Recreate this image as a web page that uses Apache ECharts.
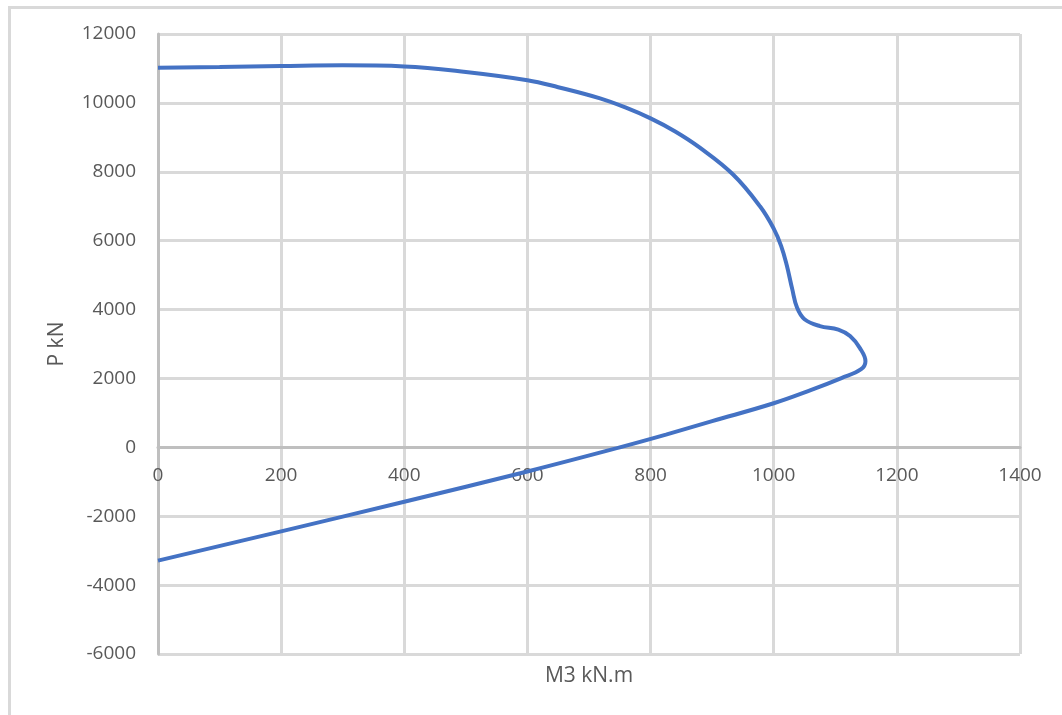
<!DOCTYPE html>
<html>
<head>
<meta charset="utf-8">
<script src="https://cdn.jsdelivr.net/npm/echarts@6/dist/echarts.min.js"></script>
<style>
  html, body { margin: 0; padding: 0; background: #ffffff; }
  #chart { width: 1062px; height: 715px; }
</style>
</head>
<body>
<div id="chart"></div>
<script>
// P–M3 interaction curve: moment M3 (kN.m) against axial force P (kN)
const momentM3 = [0, 100, 200, 300, 400, 500, 600, 650, 718, 760, 800, 840, 880, 934, 978, 1000, 1012, 1021, 1030, 1038, 1050, 1075, 1105, 1124, 1140, 1149, 1142, 1110, 1060, 1000, 900, 825, 750, 600, 400, 200, 0];
const axialP = [11020, 11045, 11070, 11090, 11060, 10900, 10660, 10455, 10130, 9860, 9550, 9170, 8700, 7920, 6990, 6350, 5850, 5300, 4600, 4050, 3720, 3520, 3420, 3230, 2880, 2500, 2270, 2010, 1660, 1280, 760, 370, 0, -700, -1580, -2440, -3290];

const xTicks = { min: 0, max: 1400, interval: 200 };
const yTicks = { min: -6000, max: 12000, interval: 2000 };
const xTitle = 'M3 kN.m';
const yTitle = 'P kN';

const curve = momentM3.map((m, i) => [m, axialP[i]]);

const labelFont = { fontFamily: 'Open Sans', fontSize: 19, color: '#595959' };
const gridGrey = '#d9d9d9';
const axisGrey = '#bfbfbf';
const plainNumber = v => String(v);

const chart = echarts.init(document.getElementById('chart'), null, { renderer: 'canvas' });
const option = {
  animation: false,
  backgroundColor: '#ffffff',
  grid: { left: 158, top: 34, width: 862, height: 620, containLabel: false },
  xAxis: {
    type: 'value',
    min: xTicks.min, max: xTicks.max, interval: xTicks.interval,
    offset: 0,
    axisLine: { onZero: false, lineStyle: { color: axisGrey, width: 3 } },
    axisTick: { show: false },
    axisLabel: Object.assign({ margin: 19, formatter: plainNumber }, labelFont),
    splitLine: { show: true, lineStyle: { color: gridGrey, width: 3 } }
  },
  yAxis: {
    type: 'value',
    min: yTicks.min, max: yTicks.max, interval: yTicks.interval,
    axisLine: { show: true, onZero: false, lineStyle: { color: axisGrey, width: 3 } },
    axisTick: { show: false },
    axisLabel: Object.assign({ margin: 22, formatter: plainNumber }, labelFont),
    splitLine: { show: true, lineStyle: { color: gridGrey, width: 3 } }
  },
  series: [{
    type: 'line',
    data: curve,
    smooth: 0.4,
    showSymbol: false,
    lineStyle: { color: '#4472c4', width: 4 },
    z: 5
  }],
  graphic: [
    {
      type: 'rect',
      shape: { x: 9.5, y: 7.5, width: 1080, height: 730 },
      style: { fill: null, stroke: gridGrey, lineWidth: 3 },
      silent: true
    },
    {
      type: 'text',
      x: 589, y: 676,
      style: { text: xTitle, font: '21px "Open Sans"', fill: '#595959', textAlign: 'center', textVerticalAlign: 'middle' }
    },
    {
      type: 'text',
      x: 57, y: 344,
      rotation: Math.PI / 2,
      style: { text: yTitle, font: '21px "Open Sans"', fill: '#595959', textAlign: 'center', textVerticalAlign: 'middle' }
    }
  ]
};
chart.setOption(option);

// Lift the horizontal axis (line and labels) up to P = 0
const zeroY = chart.convertToPixel({ yAxisIndex: 0 }, 0);
const bottomY = chart.convertToPixel({ yAxisIndex: 0 }, yTicks.min);
chart.setOption({ xAxis: { offset: zeroY - bottomY } });
</script>
</body>
</html>
